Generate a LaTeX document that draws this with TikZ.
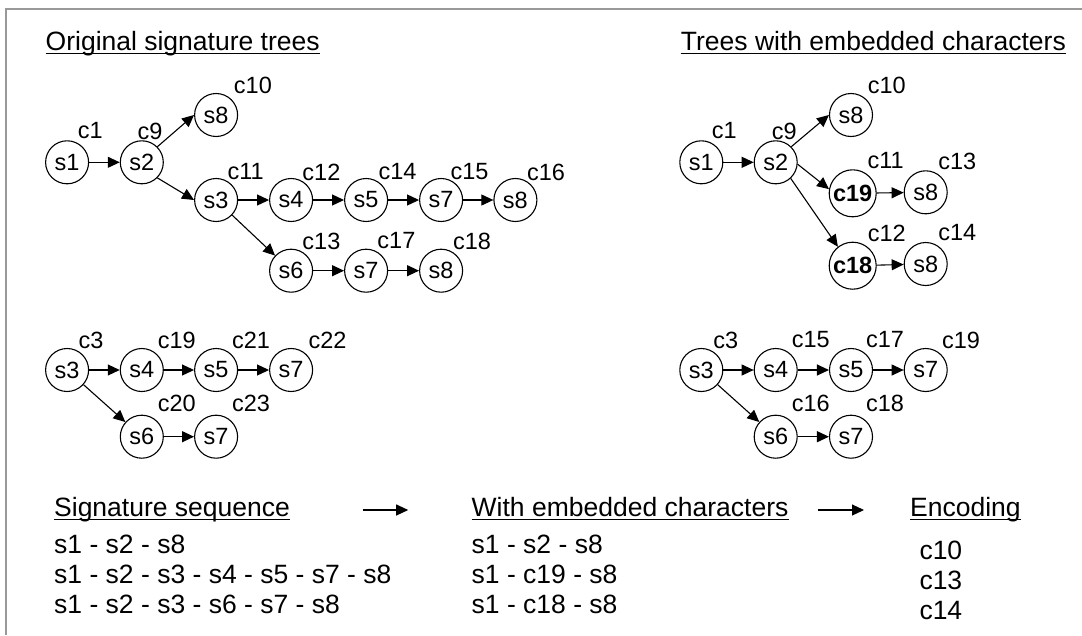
\documentclass[tikz,border=0pt]{standalone}
\usepackage{fontspec}
\setmainfont{Liberation Sans}
\usetikzlibrary{arrows.meta,calc}
\begin{document}
\begin{tikzpicture}[x=1pt,y=-1pt,
  sn/.style={circle,draw,line width=1.1pt,minimum size=43pt,inner sep=0pt,font=\fontsize{23.5}{24}\selectfont},
  bn/.style={sn,minimum size=47pt,font=\fontsize{23.5}{24}\selectfont\bfseries},
  lab/.style={inner sep=0pt,font=\fontsize{23.5}{24}\selectfont},
  txt/.style={inner sep=0pt,anchor=base west,font=\fontsize{26.5}{28}\selectfont},
  ar/.style={line width=1.1pt,-{Triangle[length=12pt,width=11pt]}},
  ul/.style={line width=1.6pt},
  framel/.style={draw=black!40,line width=2pt}
]
\useasboundingbox (0,0) rectangle (1082,635);
\draw[framel] (1082,9) -- (6,9) -- (6,635);

% ---------- titles ----------
\node[txt] (t1) at (45.5,50) {Original signature trees};
\node[txt] (t2) at (680.7,50) {Trees with embedded characters};
\draw[ul] ($(t1.base west)+(0,3.5)$) -- ($(t1.base east)+(0,3.5)$);
\draw[ul] ($(t2.base west)+(0,3.5)$) -- ($(t2.base east)+(0,3.5)$);

% ---------- left top tree ----------
\node[sn] (a1) at (67.1,162.3) {s1};
\node[sn] (a2) at (141.8,162.3) {s2};
\node[sn] (a8t) at (216.1,115) {s8};
\node[sn] (a3) at (216.1,200) {s3};
\node[sn] (a4) at (291.1,200) {s4};
\node[sn] (a5) at (366.1,200) {s5};
\node[sn] (a7) at (441.1,200) {s7};
\node[sn] (a8) at (515.4,200) {s8};
\node[sn] (a6) at (291.1,270.7) {s6};
\node[sn] (a7b) at (366.1,270.7) {s7};
\node[sn] (a8b) at (441.1,270.7) {s8};

\draw[ar] (a1) -- (a2);
\draw[ar] (a2.45) -- (a8t.west);
\draw[ar] (a2.-45) -- (a3.west);
\draw[ar] (a3) -- (a4);
\draw[ar] (a4) -- (a5);
\draw[ar] (a5) -- (a7);
\draw[ar] (a7) -- (a8);
\draw[ar] (a3) -- (a6);
\draw[ar] (a6) -- (a7b);
\draw[ar] (a7b) -- (a8b);

\node[lab] (la1) at (90.4,131) {c1};
\node[lab] (la9) at (150,131) {c9};
\node[lab] (la10) at (252.9,85) {c10};
\node[lab] (la11) at (245.7,172) {c11};
\node[lab] (la12) at (321.4,172) {c12};
\node[lab] (la14) at (397.5,172) {c14};
\node[lab] (la15) at (469.6,172) {c15};
\node[lab] (la16) at (546,172) {c16};
\node[lab] (la13) at (321.4,241) {c13};
\node[lab] (la17) at (396.4,241) {c17};
\node[lab] (la18) at (472,241) {c18};

% ---------- right top tree ----------
\node[sn] (b1) at (701.3,162.3) {s1};
\node[sn] (b2) at (775.7,162.3) {s2};
\node[sn] (b8t) at (851,115) {s8};
\node[bn] (b19) at (852.7,193.3) {c19};
\node[sn] (b8m) at (925.7,192.3) {s8};
\node[bn] (b18) at (852.7,265.7) {c18};
\node[sn] (b8b) at (925.7,264) {s8};

\draw[ar] (b1) -- (b2);
\draw[ar] (b2.45) -- (b8t.west);
\draw[ar] (b2.-5) -- (b19.170);
\draw[ar] (b2.-47) -- (b18.128);
\draw[ar] (b19) -- (b8m);
\draw[ar] (b18) -- (b8b);

\node[lab] (lb1) at (724.3,131) {c1};
\node[lab] (lb9) at (784.3,131) {c9};
\node[lab] (lb10) at (886.7,85) {c10};
\node[lab] (lb11) at (885.7,161) {c11};
\node[lab] (lb13) at (957.3,161) {c13};
\node[lab] (lb12) at (886.7,233) {c12};
\node[lab] (lb14) at (957.3,233) {c14};

% ---------- left bottom tree ----------
\node[sn] (c3) at (67.1,370) {s3};
\node[sn] (c4) at (141.8,370) {s4};
\node[sn] (c5) at (216.1,370) {s5};
\node[sn] (c7) at (291.1,370) {s7};
\node[sn] (c6) at (141.8,436.7) {s6};
\node[sn] (c7b) at (216.1,436.7) {s7};

\draw[ar] (c3) -- (c4);
\draw[ar] (c4) -- (c5);
\draw[ar] (c5) -- (c7);
\draw[ar] (c3) -- (c6);
\draw[ar] (c6) -- (c7b);

\node[lab] (lc3) at (91,340) {c3};
\node[lab] (lc19) at (176.8,340) {c19};
\node[lab] (lc21) at (251,340) {c21};
\node[lab] (lc22) at (327.5,340) {c22};
\node[lab] (lc20) at (176.8,403.3) {c20};
\node[lab] (lc23) at (251,403.3) {c23};

% ---------- right bottom tree ----------
\node[sn] (d3) at (701.3,370) {s3};
\node[sn] (d4) at (775.7,370) {s4};
\node[sn] (d5) at (851,370) {s5};
\node[sn] (d7) at (925.7,370) {s7};
\node[sn] (d6) at (775.7,436.7) {s6};
\node[sn] (d7b) at (851,436.7) {s7};

\draw[ar] (d3) -- (d4);
\draw[ar] (d4) -- (d5);
\draw[ar] (d5) -- (d7);
\draw[ar] (d3) -- (d6);
\draw[ar] (d6) -- (d7b);

\node[lab] (ld3) at (725.7,340) {c3};
\node[lab] (ld15) at (810.7,340) {c15};
\node[lab] (ld17) at (885,340) {c17};
\node[lab] (ld19) at (961,340) {c19};
\node[lab] (ld16) at (810.7,403.3) {c16};
\node[lab] (ld18) at (885,403.3) {c18};

% ---------- bottom text ----------
\node[txt] (h1) at (54,516) {Signature sequence};
\node[txt] (h2) at (471.5,516) {With embedded characters};
\node[txt] (h3) at (910,516) {Encoding};
\draw[ul] ($(h1.base west)+(0,3.5)$) -- ($(h1.base east)+(0,3.5)$);
\draw[ul] ($(h2.base west)+(0,3.5)$) -- ($(h2.base east)+(0,3.5)$);
\draw[ul] ($(h3.base west)+(0,3.5)$) -- ($(h3.base east)+(0,3.5)$);

\coordinate (p1s) at (362.5,510);
\coordinate (p1e) at (408.2,510);
\coordinate (p2s) at (817.7,510);
\coordinate (p2e) at (864,510);
\draw[ar] (p1s) -- (p1e);
\draw[ar] (p2s) -- (p2e);

\node[txt] (s1) at (54,553.3) {s1 - s2 - s8};
\node[txt] (s2) at (54,583.3) {s1 - s2 - s3 - s4 - s5 - s7 - s8};
\node[txt] (s3) at (54,613.3) {s1 - s2 - s3 - s6 - s7 - s8};
\node[txt] (e1) at (471.5,553.3) {s1 - s2 - s8};
\node[txt] (e2) at (471.5,583.3) {s1 - c19 - s8};
\node[txt] (e3) at (471.5,613.3) {s1 - c18 - s8};
\node[txt] (k1) at (919.3,559.3) {c10};
\node[txt] (k2) at (919.3,589.3) {c13};
\node[txt] (k3) at (919.3,619.3) {c14};
\end{tikzpicture}
\end{document}
